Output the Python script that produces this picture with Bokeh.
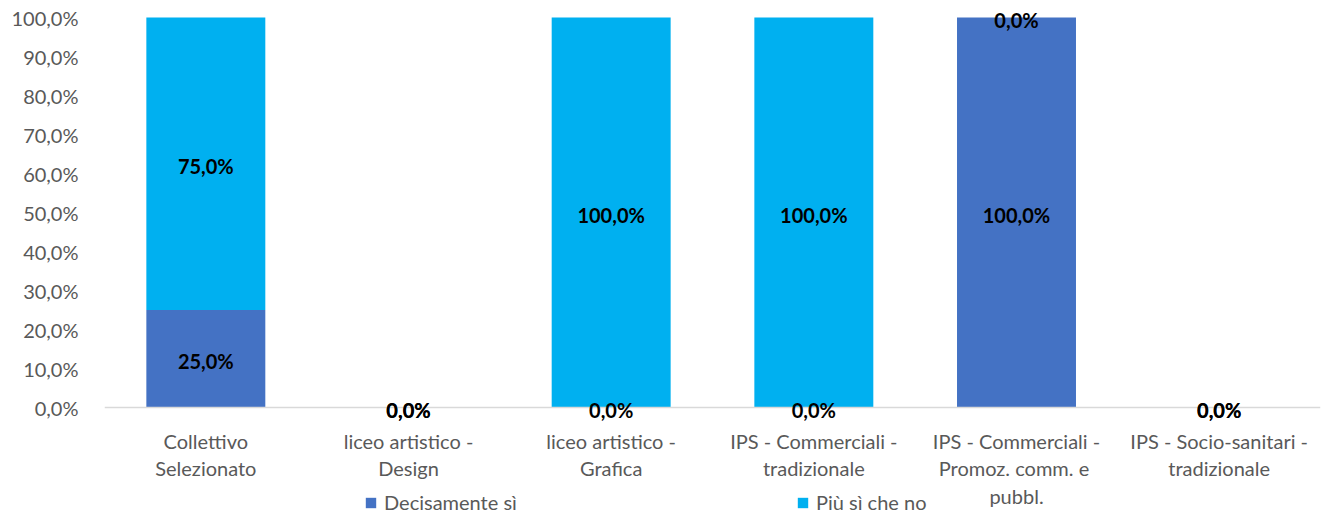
from bokeh.plotting import figure
from bokeh.models import ColumnDataSource, LabelSet, Legend, LegendItem, FixedTicker, Span
from bokeh.core.properties import value
from bokeh.embed import file_html
from bokeh.resources import INLINE

categories = ["Collettivo Selezionato", "liceo artistico - Design", "liceo artistico - Grafica",
              "IPS - Commerciali - tradizionale", "IPS - Commerciali - Promoz. comm. e pubbl.",
              "IPS - Socio-sanitari - tradizionale"]
category_labels = ["Collettivo\nSelezionato", "liceo artistico -\nDesign", "liceo artistico -\nGrafica",
                   "IPS - Commerciali -\ntradizionale", "IPS - Commerciali -\nPromoz. comm.  e\npubbl.",
                   "IPS - Socio-sanitari -\ntradizionale"]
series_names = ["Decisamente sì", "Più sì che no"]
decisamente_si = [25.0, 0.0, 0.0, 0.0, 100.0, 0.0]
piu_si_che_no = [75.0, 0.0, 100.0, 100.0, 0.0, 0.0]
y_ticks = [0, 10, 20, 30, 40, 50, 60, 70, 80, 90, 100]
y_tick_labels = ["0,0%", "10,0%", "20,0%", "30,0%", "40,0%", "50,0%", "60,0%", "70,0%", "80,0%", "90,0%", "100,0%"]

colors = ["#4472C4", "#00B0F0"]
FONT = "Lato"
BOLD_FONT = "Lato"
GREY = "#595959"

# layout constants (pixels)
W, H = 1325, 518
TOP, LEFT, RIGHT = 17, 104, 5     # 100 % line sits TOP px below the figure top
PX_PER_UNIT = 3.9                 # 100 % spans 390 px
y_end = 100 + TOP / PX_PER_UNIT
y_start = y_end - H / PX_PER_UNIT
line_offsets_px = [33, 60, 88]    # centres of category label lines below the zero line

def fmt(v):
    return f"{v:.1f}".replace(".", ",") + "%"

xs = list(range(len(categories)))
src = ColumnDataSource(dict(x=xs, d=decisamente_si, p=piu_si_che_no))

p = figure(x_range=(-0.5, len(categories) - 0.5), y_range=(y_start, y_end), width=W, height=H,
           output_backend="svg", toolbar_location=None,
           min_border_left=LEFT, min_border_right=RIGHT, min_border_top=0, min_border_bottom=0)
p.outline_line_color = None
p.xgrid.grid_line_color = None
p.ygrid.grid_line_color = None
p.xaxis.visible = False

rs = p.vbar_stack(["d", "p"], x="x", width=0.587, color=colors, source=src, line_color=None)

# zero (category) axis line
p.add_layout(Span(location=0, dimension="width", line_color="#D9D9D9", line_width=1.5))

# data labels
lab_d = ColumnDataSource(dict(x=xs, y=[v / 2 for v in decisamente_si],
                              t=[fmt(v) for v in decisamente_si]))
lab_p = ColumnDataSource(dict(x=xs, y=[a + b / 2 for a, b in zip(decisamente_si, piu_si_che_no)],
                              t=[fmt(v) for v in piu_si_che_no]))
for s in (lab_d, lab_p):
    p.add_layout(LabelSet(x="x", y="y", text="t", source=s, text_align="center",
                          text_baseline="middle", text_font=value(BOLD_FONT),
                          text_font_size=value("20px"), text_font_style=value("bold"),
                          text_color=value("#000000"), y_offset=-2))

# category labels, one glyph row per text line
cx, cy, ct = [], [], []
for i, lab in enumerate(category_labels):
    for k, line in enumerate(lab.split("\n")):
        cx.append(xs[i])
        cy.append(-line_offsets_px[k] / PX_PER_UNIT)
        ct.append(line)
p.text(x=cx, y=cy, text=ct, text_align="center", text_baseline="middle",
       text_font=value(FONT), text_font_size="20px", text_color=GREY)

# y axis
p.yaxis.ticker = FixedTicker(ticks=y_ticks)
p.yaxis.major_label_overrides = {t: l for t, l in zip(y_ticks, y_tick_labels)}
p.yaxis.axis_line_color = None
p.yaxis.major_tick_line_color = None
p.yaxis.minor_tick_line_color = None
p.yaxis.major_label_text_font = FONT
p.yaxis.major_label_text_font_size = "20px"
p.yaxis.major_label_text_color = GREY
p.yaxis.major_label_standoff = 20

# legend
legend = Legend(items=[LegendItem(label=n, renderers=[r]) for n, r in zip(series_names, rs)],
                orientation="horizontal", location=(260, 4), glyph_width=13, glyph_height=13,
                label_standoff=7, label_width=300, spacing=112,
                label_text_font=FONT, label_text_font_size="20px", label_text_color=GREY,
                border_line_color=None, background_fill_alpha=0, padding=0, margin=0,
                label_height=13)
p.add_layout(legend, "center")

open("out.html", "w").write(file_html(p, INLINE))
